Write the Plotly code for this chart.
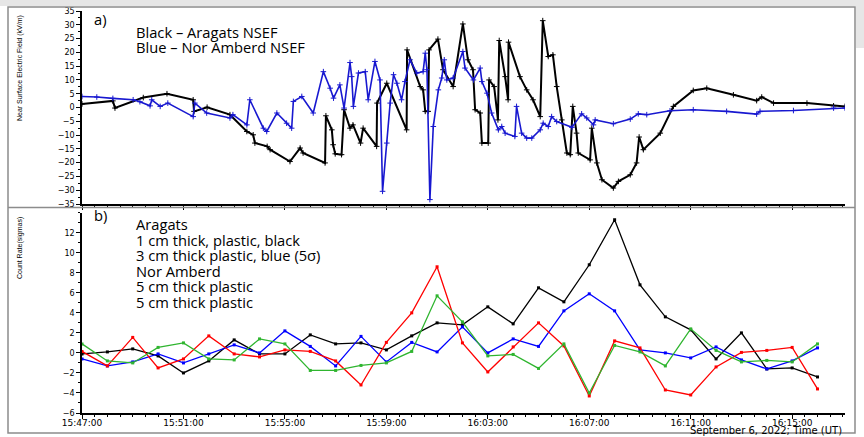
import plotly.graph_objects as go
from plotly.subplots import make_subplots

DAY = "2022-09-06 "

# --------------------------------------------------
# a) near surface electric field (kV/m), vertices
# --------------------------------------------------
aragats_t = [
    "15:47:00", "15:48:13", "15:48:18", "15:49:25", "15:50:21", "15:51:23", "15:51:25",
    "15:51:56", "15:52:50", "15:53:30", "15:53:45", "15:53:49", "15:54:18", "15:54:25",
    "15:55:12", "15:55:36", "15:55:43", "15:56:35", "15:56:37", "15:56:51", "15:56:54",
    "15:56:59", "15:57:14", "15:57:20", "15:57:34", "15:57:41", "15:57:59", "15:58:05",
    "15:58:37", "15:58:38", "15:59:01", "15:59:48", "15:59:49", "16:00:20", "16:00:27",
    "16:00:32", "16:00:39", "16:00:41", "16:01:02", "16:01:14", "16:01:38", "16:02:01",
    "16:02:13", "16:02:25", "16:02:30", "16:02:42", "16:02:46", "16:03:01", "16:03:03",
    "16:03:15", "16:03:24", "16:03:27", "16:03:41", "16:03:48", "16:03:49", "16:04:16",
    "16:04:32", "16:04:47", "16:05:04", "16:05:10", "16:05:23", "16:05:34", "16:05:43",
    "16:05:55", "16:06:07", "16:06:15", "16:06:21", "16:06:30", "16:06:34", "16:07:02",
    "16:07:06", "16:07:18", "16:07:30", "16:07:57", "16:08:09", "16:08:37", "16:08:52",
    "16:08:58", "16:09:08", "16:09:48", "16:10:19", "16:11:06", "16:11:38", "16:12:41",
    "16:13:36", "16:13:48", "16:14:16", "16:15:35", "16:16:38", "16:17:05",
]
aragats_ef = [
    1.3, 2.4, -0.2, 3.6, 5.0, 2.8, -1.4,
    0.1, -2.6, -8.7, -9.9, -12.9, -14.1, -15.3,
    -19.6, -14.7, -16.5, -20.1, -3.0, -8.1, -13.5,
    -16.8, -17.1, -0.8, -7.5, -6.3, -12.9, -7.5,
    -14.1, 1.6, 8.8, -8.1, 20.9, 7.6, 6.4,
    -1.4, -1.4, 20.9, 24.8, 13.7, 7.6, 30.3,
    17.3, 13.7, -0.8, -2.0, -12.9, -12.9, 10.0,
    7.6, -4.5, 24.3, 11.2, 2.8, 23.7, 11.2,
    6.4, 2.8, -3.3, 31.5, 18.5, 19.1, 7.6,
    -4.5, -16.5, -17.1, 0.4, -9.3, -16.5, -19.0,
    -7.5, -20.1, -26.2, -29.2, -26.8, -24.4, -20.1,
    -10.7, -15.3, -9.3, 0.4, 6.2, 7.0, 4.6,
    2.5, 3.8, 1.6, 1.6, 0.6, 0.4,
]

amberd_t = [
    "15:47:00", "15:47:35", "15:48:13", "15:49:01", "15:49:17", "15:49:41", "15:49:45",
    "15:50:05", "15:50:23", "15:51:23", "15:51:27", "15:51:55", "15:52:50", "15:52:57",
    "15:53:30", "15:53:37", "15:54:09", "15:54:17", "15:54:41", "15:55:04", "15:55:16",
    "15:55:20", "15:55:40", "15:56:07", "15:56:31", "15:56:47", "15:56:55", "15:57:10",
    "15:57:20", "15:57:34", "15:57:38", "15:57:42", "15:57:54", "15:58:10", "15:58:17",
    "15:58:33", "15:58:45", "15:58:51", "15:59:01", "15:59:09", "15:59:17", "15:59:25",
    "15:59:36", "15:59:44", "15:59:56", "16:00:12", "16:00:27", "16:00:32", "16:00:36",
    "16:00:43", "16:00:51", "16:01:03", "16:01:11", "16:01:17", "16:01:23", "16:01:38",
    "16:02:01", "16:02:06", "16:02:26", "16:02:42", "16:02:46", "16:02:58", "16:03:09",
    "16:03:25", "16:03:33", "16:03:41", "16:04:04", "16:04:08", "16:04:20", "16:04:32",
    "16:04:44", "16:05:04", "16:05:11", "16:05:23", "16:05:31", "16:05:43", "16:06:19",
    "16:06:42", "16:06:54", "16:07:10", "16:07:14", "16:07:57", "16:08:37", "16:08:56",
    "16:09:16", "16:10:11", "16:11:06", "16:12:25", "16:13:36", "16:13:44", "16:15:03",
    "16:16:38", "16:17:05",
]
amberd_ef = [
    4.0, 3.8, 3.3, 2.8, 2.1, 0.6, 2.8,
    0.4, 1.6, -3.3, 1.6, -2.0, -3.8, -2.6,
    -6.3, 2.8, -7.5, -8.7, -2.0, -5.7, -7.5,
    2.2, 4.0, -2.0, 13.0, 7.0, 3.4, 8.2,
    -0.2, 16.3, 11.2, 0.4, 12.5, 13.0, 2.8,
    16.7, 10.0, -30.4, -12.9, 1.6, 11.9, 8.8,
    2.8, 9.4, 17.3, 12.5, 13.0, 19.7, 13.7,
    -33.4, -6.9, 6.4, 10.7, 17.3, 10.0, 10.7,
    20.3, 14.3, 10.0, 14.3, 9.4, 5.2, -2.0,
    -8.1, -6.9, -9.3, -10.5, 0.4, -9.3, -11.1,
    -11.1, -8.1, -5.7, -6.9, -3.3, -5.1, -7.2,
    -2.3, -3.8, -6.3, -4.5, -5.9, -4.2, -2.3,
    -2.6, -1.2, -0.8, -1.4, -2.4, -1.4, -1.1,
    -0.2, -0.2,
]

# --------------------------------------------------
# b) one-minute count rates (sigmas)
# --------------------------------------------------
minutes = [
    "15:47:00", "15:48:00", "15:49:00", "15:50:00", "15:51:00", "15:52:00",
    "15:53:00", "15:54:00", "15:55:00", "15:56:00", "15:57:00", "15:58:00",
    "15:59:00", "16:00:00", "16:01:00", "16:02:00", "16:03:00", "16:04:00",
    "16:05:00", "16:06:00", "16:07:00", "16:08:00", "16:09:00", "16:10:00",
    "16:11:00", "16:12:00", "16:13:00", "16:14:00", "16:15:00", "16:16:00",
]
plastic_1cm = [
    -0.1, 0.1, 0.4, -0.3, -2.0, -0.8, 1.3, -0.1, -0.1, 1.8,
    0.9, 1.0, 0.3, 1.7, 3.0, 2.8, 4.6, 2.9, 6.5, 5.1,
    8.8, 13.3, 6.8, 3.6, 2.3, -0.6, 2.0, -1.6, -1.5, -2.4,
]
plastic_3cm = [
    -0.6, -1.3, -0.9, -0.1, -1.0, -0.1, 0.8, 0.0, 2.2, 0.65,
    -1.3, 1.65, -0.9, 1.05, 0.1, 2.6, 0.0, 1.4, 0.65, 4.2,
    5.9, 4.2, 0.3, 0.0, -0.5, 0.6, -0.7, -1.6, -0.8, 0.5,
]
amberd_5cm_red = [
    0.15, -1.3, 1.55, -1.5, -0.6, 1.7, -0.1, -0.4, 0.3, 0.15,
    -0.8, -3.2, 1.05, 4.0, 8.6, 1.0, -1.9, 0.6, 3.0, 0.7,
    -4.3, 1.2, 0.5, -3.7, -4.2, -1.4, 0.05, 0.25, 0.55, -3.6,
]
amberd_5cm_green = [
    0.9, -0.8, -1.0, 0.55, 1.0, -0.6, -0.7, 1.4, 0.9, -1.75,
    -1.75, -1.25, -1.0, 0.15, 5.7, 3.1, -0.3, -0.15, -1.55, 0.9,
    -4.0, 0.75, 0.1, -1.3, 2.4, 0.25, -0.9, -0.75, -0.9, 0.9,
]

x_ticks = ["15:47:00", "15:51:00", "15:55:00", "15:59:00", "16:03:00", "16:07:00",
           "16:11:00", "16:15:00"]


def ts(lst):
    return [DAY + s for s in lst]


W, H = 864, 437
L, R, T, B = 82, 19, 11, 24

fig = make_subplots(rows=2, cols=1, shared_xaxes=False, vertical_spacing=0.02)

# top panel
fig.add_trace(go.Scatter(
    x=ts(aragats_t), y=aragats_ef, mode="lines+markers",
    line=dict(color="black", width=2),
    marker=dict(symbol="cross-thin", size=4, line=dict(color="black", width=1)),
), row=1, col=1)
fig.add_trace(go.Scatter(
    x=ts(amberd_t), y=amberd_ef, mode="lines+markers",
    line=dict(color="#1818d0", width=1.6),
    marker=dict(symbol="cross-thin", size=4, line=dict(color="#1818d0", width=1)),
), row=1, col=1)

# bottom panel
for vals, col in [(plastic_1cm, "black"), (plastic_3cm, "#0000ff"),
                  (amberd_5cm_red, "#ff0000"), (amberd_5cm_green, "#2fb52f")]:
    fig.add_trace(go.Scatter(
        x=ts(minutes), y=vals, mode="lines+markers",
        line=dict(color=col, width=1.3),
        marker=dict(symbol="square", size=3, color=col),
    ), row=2, col=1)

x_range = [DAY + "15:47:00", DAY + "16:17:05"]

axis_common = dict(
    showline=True, linecolor="black", linewidth=1.5, ticks="outside",
    ticklen=4, tickcolor="black", showgrid=False, zeroline=False,
    automargin=False,
)

fig.update_xaxes(
    type="date", range=x_range, tickvals=ts(x_ticks), ticktext=x_ticks,
    tickfont=dict(family="DejaVu Sans", size=9, color="black"),
    minor=dict(dtick=30000, ticks="outside", ticklen=2, tickcolor="black"),
    **axis_common,
)
fig.update_xaxes(showticklabels=False, domain=[0, 1], row=1, col=1)
fig.update_xaxes(showticklabels=True, domain=[0, 1], ticklabelstandoff=-4, row=2, col=1)

top_dom = [(413 - 204) / (H - T - B), 1]
bot_dom = [0, (413 - 212.7) / (H - T - B)]

y_font = dict(family="DejaVu Sans", size=8, color="black")
fig.update_yaxes(
    range=[-35, 35], dtick=5, domain=top_dom, tickfont=y_font,
    minor=dict(dtick=2.5, ticks="outside", ticklen=2, tickcolor="black"),
    **axis_common, row=1, col=1,
)
fig.update_yaxes(
    range=[-6, 14], tickvals=[-6, -4, -2, 0, 2, 4, 6, 8, 10, 12], domain=bot_dom,
    tickfont=y_font,
    minor=dict(dtick=1, ticks="outside", ticklen=2, tickcolor="black"),
    **axis_common, row=2, col=1,
)


def px_x(p):
    return (p - L) / (W - L - R)


def px_y(p):
    return (H - B - p) / (H - T - B)


# y titles sit near the top of each panel in the original
title_font = dict(family="Liberation Sans", size=7, color="black")
fig.add_annotation(text="Near Surface Electric Field (kV/m)", x=px_x(20), y=px_y(13),
                   xref="paper", yref="paper", xanchor="center", yanchor="top",
                   textangle=-90, showarrow=False, font=title_font)
fig.add_annotation(text="Count Rate(sigmas)", x=px_x(20), y=px_y(215),
                   xref="paper", yref="paper", xanchor="center", yanchor="top",
                   textangle=-90, showarrow=False, font=title_font)

label_font = dict(family="Open Sans", size=14.7, color="black")
annos = [
    ("a)", 92, 19), ("Black \u2013 Aragats NSEF", 134, 32), ("Blue \u2013 Nor Amberd NSEF", 134, 47),
    ("b)", 92, 215), ("Aragats", 134, 224), ("1 cm thick, plastic, black", 134, 240),
    ("3 cm thick plastic, blue (5\u03c3)", 134, 255), ("Nor Amberd", 134, 271),
    ("5 cm thick plastic", 134, 286), ("5 cm thick plastic", 134, 302),
]
for txt, ax, ay in annos:
    fig.add_annotation(text=txt, x=px_x(ax), y=px_y(ay), xref="paper", yref="paper",
                       xanchor="left", yanchor="middle", showarrow=False, font=label_font)

fig.add_annotation(text="September 6, 2022; Time (UT)", x=px_x(844), y=px_y(431),
                   xref="paper", yref="paper", xanchor="right", yanchor="middle",
                   showarrow=False, font=dict(family="DejaVu Sans", size=10))

# frame around the two panels, like the original figure
frame = dict(color="#8c8c8c", width=1.5)
gray = "#e6e6e6"
fig.add_shape(type="rect", xref="paper", yref="paper", x0=px_x(0), x1=px_x(864),
              y0=px_y(0), y1=px_y(6), fillcolor=gray, line=dict(width=0), layer="below")
fig.add_shape(type="rect", xref="paper", yref="paper", x0=px_x(856), x1=px_x(864),
              y0=px_y(6), y1=px_y(48), fillcolor=gray, line=dict(width=0), layer="below")
fig.add_shape(type="rect", xref="paper", yref="paper", x0=px_x(8), x1=px_x(855),
              y0=px_y(433), y1=px_y(7), line=frame)
fig.add_shape(type="line", xref="paper", yref="paper", x0=px_x(8), x1=px_x(855),
              y0=px_y(207.5), y1=px_y(207.5), line=frame)

fig.update_layout(
    width=W, height=H, showlegend=False,
    margin=dict(l=L, r=R, t=T, b=B),
    paper_bgcolor="white", plot_bgcolor="white",
    font=dict(family="Liberation Sans", color="black"),
)

# the page's default 8px body margin would shift everything
fig.write_html("out.html", config={"displayModeBar": False},
               post_script="document.body.style.margin='0';")
